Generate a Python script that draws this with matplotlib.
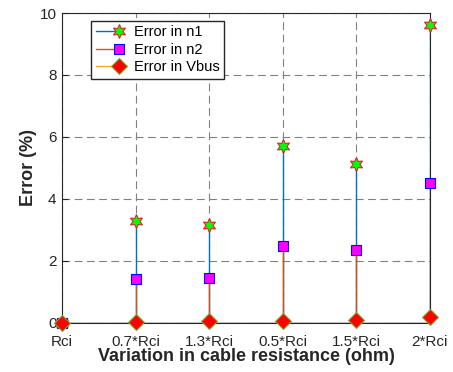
import matplotlib
matplotlib.use("Agg")
import matplotlib.pyplot as plt
from matplotlib.lines import Line2D
from matplotlib.legend_handler import HandlerLine2DCompound

# ---------- DATA ----------
cases = ["Rci", "0.7*Rci", "1.3*Rci", "0.5*Rci", "1.5*Rci", "2*Rci"]
err_n1 = [0.0, 3.30, 3.16, 5.70, 5.12, 9.62]
err_n2 = [0.0, 1.42, 1.44, 2.47, 2.34, 4.52]
err_vbus = [0.0, 0.03, 0.05, 0.06, 0.10, 0.20]
yticks = [0, 2, 4, 6, 8, 10]

plt.rcParams["font.family"] = ["Liberation Sans", "DejaVu Sans"]
txt = "#262626"

# (label, values, line colour, marker, face, edge, size)
series = [
    ("Error in n1", err_n1, "#0072BD", (6, 1, 0), "#00ff00", "#d62728", 10),
    ("Error in n2", err_n2, "#D95319", "s", "#ff00ff", "#0000ff", 7),
    ("Error in Vbus", err_vbus, "#EDB120", "D", "#ff0000", "#77AC30", 8),
]

fig = plt.figure(figsize=(4.53, 3.72), dpi=100)
ax = fig.add_axes([0.137, 0.132, 0.812, 0.833])

x = list(range(1, len(cases) + 1))
handles = []
for label, vals, lc, mk, fc, ec, ms in series:
    st = ax.stem(x, vals, basefmt=" ")
    st.stemlines.set_color(lc)
    st.stemlines.set_linewidth(1.0)
    st.markerline.set_marker(mk)
    st.markerline.set_markersize(ms)
    st.markerline.set_markerfacecolor(fc)
    st.markerline.set_markeredgecolor(ec)
    st.markerline.set_markeredgewidth(0.8)
    st.markerline.set_zorder(4)
    st.markerline.set_clip_on(False)
    handles.append(Line2D([], [], color=lc, lw=1.0, marker=mk, ms=ms,
                          mfc=fc, mec=ec, mew=0.8, label=label))

ax.axhline(0, color="black", lw=1.0, zorder=3)

ax.set_xlim(1, 6)
ax.set_ylim(0, 10)
ax.set_xticks(x)
ax.set_xticklabels(cases)
ax.set_yticks(yticks)
ax.tick_params(direction="in", labelsize=11, colors=txt, length=4)
ax.tick_params(axis="x", pad=9)
ax.tick_params(axis="y", pad=4)
ax.grid(True, color="#808080", ls=(0, (7, 4)), lw=0.8)
ax.set_axisbelow(True)
for sp in ax.spines.values():
    sp.set_color(txt)
    sp.set_linewidth(0.8)

ax.set_xlabel("Variation in cable resistance (ohm)", fontsize=13,
              fontweight="bold", color=txt, labelpad=-1)
ax.set_ylabel("Error (%)", fontsize=13, fontweight="bold", color=txt, labelpad=2)


# marker at the right end of the legend line, like matlab
class EndMarker(HandlerLine2DCompound):
    def get_xdata(self, legend, xdescent, ydescent, width, height, fontsize):
        xd = [-xdescent, -xdescent + width]
        return xd, [-xdescent + width]


ax.legend(handles=handles, loc="upper left", bbox_to_anchor=(0.08, 0.975),
          fontsize=10.5, fancybox=False, edgecolor=txt, framealpha=1,
          handlelength=1.6, handletextpad=1.0, borderpad=0.3, labelspacing=0.25,
          borderaxespad=0,
          handler_map={Line2D: EndMarker(numpoints=1)})

fig.savefig("out.png", dpi=100)
